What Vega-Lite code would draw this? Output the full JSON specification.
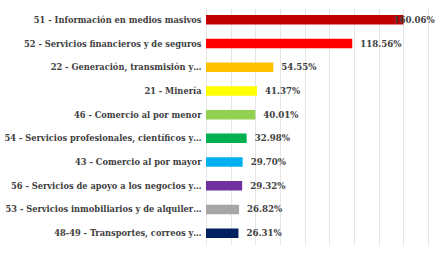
{
  "$schema": "https://vega.github.io/schema/vega-lite/v6.json",
  "autosize": "none",
  "padding": {"left": 206, "top": 8, "right": 14, "bottom": 8},
  "width": 222,
  "height": 237,
  "background": "#ffffff",
  "config": {"view": {"stroke": null}},
  "data": {
    "values": [
      {"sector": "51 - Información en medios masivos", "value": 1.6006},
      {"sector": "52 - Servicios financieros y de seguros", "value": 1.1856},
      {"sector": "22 - Generación, transmisión y…", "value": 0.5455},
      {"sector": "21 - Minería", "value": 0.4137},
      {"sector": "46 - Comercio al por menor", "value": 0.4001},
      {"sector": "54 - Servicios profesionales, científicos y…", "value": 0.3298},
      {"sector": "43 - Comercio al por mayor", "value": 0.2970},
      {"sector": "56 - Servicios de apoyo a los negocios y…", "value": 0.2932},
      {"sector": "53 - Servicios inmobiliarios y de alquiler…", "value": 0.2682},
      {"sector": "48-49 - Transportes, correos y…", "value": 0.2631}
    ]
  },
  "encoding": {
    "y": {
      "field": "sector",
      "type": "nominal",
      "sort": null,
      "scale": {"paddingInner": 0.6, "paddingOuter": 0.3},
      "axis": {
        "title": null,
        "ticks": false,
        "domain": false,
        "labelPadding": 5,
        "labelFont": "DejaVu Serif Condensed",
        "labelFontSize": 9.2,
        "labelFontWeight": "bold",
        "labelColor": "#404040",
        "labelLimit": 220
      }
    },
    "x": {
      "field": "value",
      "type": "quantitative",
      "scale": {"domain": [0, 1.8], "nice": false},
      "axis": {
        "title": null,
        "values": [0, 0.2, 0.4, 0.6, 0.8, 1.0, 1.2, 1.4, 1.6, 1.8],
        "labels": false,
        "ticks": false,
        "domain": false,
        "grid": true,
        "gridColor": "#e6e6e6",
        "gridWidth": 1
      }
    }
  },
  "layer": [
    {
      "mark": {"type": "bar"},
      "encoding": {
        "color": {
          "field": "sector",
          "type": "nominal",
          "legend": null,
          "scale": {
            "domain": [
              "51 - Información en medios masivos",
              "52 - Servicios financieros y de seguros",
              "22 - Generación, transmisión y…",
              "21 - Minería",
              "46 - Comercio al por menor",
              "54 - Servicios profesionales, científicos y…",
              "43 - Comercio al por mayor",
              "56 - Servicios de apoyo a los negocios y…",
              "53 - Servicios inmobiliarios y de alquiler…",
              "48-49 - Transportes, correos y…"
            ],
            "range": ["#C00000", "#FF0000", "#FFC000", "#FFFF00", "#92D050", "#00B050", "#00B0F0", "#7030A0", "#A6A6A6", "#002060"]
          }
        }
      }
    },
    {
      "transform": [{"filter": "datum.value < 1.5"}],
      "mark": {"type": "text", "align": "left", "baseline": "middle", "dx": 8, "font": "DejaVu Serif Condensed", "fontSize": 9.6, "fontWeight": "bold", "color": "#404040"},
      "encoding": {"text": {"field": "value", "type": "quantitative", "format": ".2%"}}
    },
    {
      "transform": [{"filter": "datum.value >= 1.5"}],
      "mark": {"type": "text", "align": "left", "baseline": "middle", "dx": -10, "font": "DejaVu Serif Condensed", "fontSize": 9.6, "fontWeight": "bold", "color": "#404040"},
      "encoding": {"text": {"field": "value", "type": "quantitative", "format": ".2%"}}
    }
  ]
}
